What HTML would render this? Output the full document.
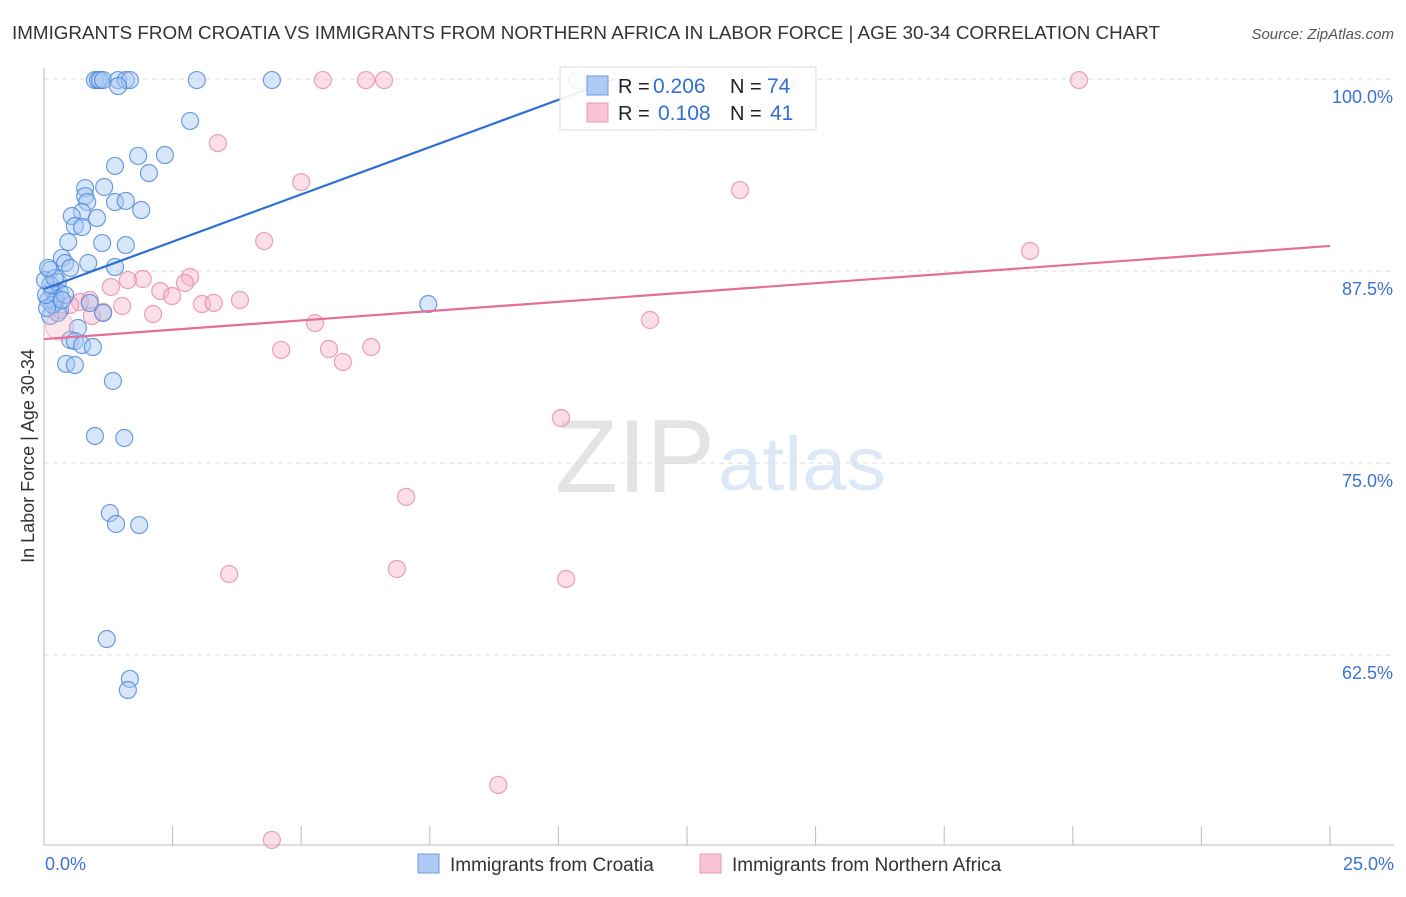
<!DOCTYPE html>
<html><head><meta charset="utf-8"><style>
body{margin:0;background:#fff;font-family:"Liberation Sans",sans-serif}
svg text{font-family:"Liberation Sans",sans-serif}
</style></head><body>
<svg id="c" width="1406" height="892" xmlns="http://www.w3.org/2000/svg">
<text x="12" y="39" font-size="18.5" fill="#333" textLength="1148" lengthAdjust="spacingAndGlyphs">IMMIGRANTS FROM CROATIA VS IMMIGRANTS FROM NORTHERN AFRICA IN LABOR FORCE | AGE 30-34 CORRELATION CHART</text>
<text x="1394" y="39" font-size="15" fill="#555" text-anchor="end" font-style="italic">Source: ZipAtlas.com</text>
<text x="555" y="492" font-size="104" fill="#e4e4e4" textLength="160" lengthAdjust="spacingAndGlyphs" font-family="Liberation Serif">ZIP</text>
<text x="718" y="490" font-size="76" fill="#dde8f6" textLength="168" lengthAdjust="spacingAndGlyphs">atlas</text>
<g id="grid"></g>
<g id="axes"></g>
<g id="pts"></g>
<g id="trend"></g>
<text transform="translate(34,456) rotate(-90)" font-size="18" fill="#333" text-anchor="middle">In Labor Force | Age 30-34</text>
<g>
<rect x="560" y="67" width="256" height="63" fill="#fff" fill-opacity="0.9" stroke="#ddd"/>
<rect x="587" y="76" width="21" height="19" fill="#aecbf5" stroke="#6a9be0"/>
<rect x="587" y="103" width="21" height="19" fill="#f9c4d4" stroke="#ea9ab2"/>
<text x="618" y="93" font-size="20" fill="#222">R =</text>
<text x="653" y="93" font-size="21" fill="#2f6fd6">0.206</text>
<text x="730" y="93" font-size="20" fill="#222">N =</text>
<text x="767" y="93" font-size="21" fill="#2f6fd6">74</text>
<text x="618" y="120" font-size="20" fill="#222">R =</text>
<text x="658" y="120" font-size="21" fill="#2f6fd6">0.108</text>
<text x="730" y="120" font-size="20" fill="#222">N =</text>
<text x="770" y="120" font-size="21" fill="#2f6fd6">41</text>
</g>
<g>
<rect x="418" y="854" width="21" height="19" fill="#aecbf5" stroke="#6a9be0"/>
<text x="450" y="871" font-size="19" fill="#333">Immigrants from Croatia</text>
<rect x="700" y="854" width="21" height="19" fill="#f9c4d4" stroke="#ea9ab2"/>
<text x="732" y="871" font-size="19" fill="#333">Immigrants from Northern Africa</text>
</g>
</svg>
<script>
const xTicks=[0,2.5,5,7.5,10,12.5,15,17.5,20,22.5,25];
const yTicks=[100,87.5,75,62.5];
const yTickLabels=["100.0%","87.5%","75.0%","62.5%"];
const xEndLabels=["0.0%","25.0%"];
const bluePx=[[95,80],[98,80],[100,80],[103,80],[118,80],[126,80],[130,80],[118,86],[197,80],[272,80],[190,121],[115,166],[138,156],[165,155],[149,173],[85,188],[104,187],[85,196],[87,202],[115,202],[126,201],[141,210],[82,212],[72,216],[97,218],[75,226],[82,227],[102,243],[68,242],[126,245],[62,258],[65,263],[88,263],[115,267],[50,270],[70,268],[58,282],[52,290],[60,293],[56,298],[48,300],[55,302],[90,303],[60,310],[50,316],[58,313],[103,313],[78,328],[70,340],[75,341],[82,345],[93,347],[66,364],[75,365],[113,381],[95,436],[124,438],[110,513],[116,524],[139,525],[107,639],[130,679],[128,690],[428,304],[577,80],[53,305],[47,308],[65,295],[46,295],[50,285],[62,300],[45,280],[55,278],[48,268]];
const pinkPx=[[323,80],[366,80],[384,80],[790,80],[1079,80],[218,143],[301,182],[740,190],[264,241],[1030,251],[190,277],[185,283],[143,279],[128,280],[111,287],[160,291],[172,296],[202,304],[214,303],[240,300],[122,306],[153,314],[90,300],[80,302],[70,305],[103,312],[92,316],[650,320],[315,323],[281,350],[329,349],[371,347],[343,362],[561,418],[406,497],[229,574],[397,569],[566,579],[498,785],[272,840]];
const blueX=bluePx.map(p=>+((p[0]-44)*25/1286).toFixed(2));
const blueY=bluePx.map(p=>+(100-(p[1]-79)*12.5/192).toFixed(2));
const pinkX=pinkPx.map(p=>+((p[0]-44)*25/1286).toFixed(2));
const pinkY=pinkPx.map(p=>+(100-(p[1]-79)*12.5/192).toFixed(2));
const blueTrend=[[0,86.33],[11.1,100]];
const pinkTrend=[[0,83.07],[25,89.13]];
const X=v=>44+v/25*1286, Y=v=>79+(100-v)/12.5*192;
const NS="http://www.w3.org/2000/svg";
function mk(t,a,par){const e=document.createElementNS(NS,t);for(const k in a)e.setAttribute(k,a[k]);document.getElementById(par).appendChild(e);return e;}
yTicks.forEach((v,i)=>{
 const l=mk('line',{x1:44,x2:1394,y1:Y(v),y2:Y(v),stroke:'#ddd','stroke-dasharray':'5,4'},'grid');
 
 
 const t=mk('text',{x:1393,y:Y(v)+24,'font-size':18,fill:'#3b72d4','text-anchor':'end'},'grid');t.textContent=yTickLabels[i];
 
 
});
let a=mk('line',{x1:44,x2:44,y1:68,y2:845,stroke:'#bbb'},'axes');


a=mk('line',{x1:44,x2:1394,y1:845,y2:845,stroke:'#bbb'},'axes');


xTicks.forEach(v=>{const t=mk('line',{x1:X(v),x2:X(v),y1:826,y2:845,stroke:'#bbb'},'axes');
 
 });
[[0,'start',45],[25,'end',1394]].forEach((d,i)=>{const t=mk('text',{x:d[2],y:870,'font-size':18,fill:'#3b72d4','text-anchor':d[1]},'axes');t.textContent=xEndLabels[i];
 
 });
function dots(xs,ys,fill,stroke,name){xs.forEach((x,i)=>{const c=mk('circle',{cx:X(x),cy:Y(ys[i]),r:8.5,fill:fill,'fill-opacity':0.45,stroke:stroke,'stroke-width':1.2,'stroke-opacity':0.8},'pts');
 
 });}
dots(pinkX,pinkY,'#f7b6c9','#e68aa6','point-northern-africa');
dots(blueX,blueY,'#a9c8f2','#4a86dc','point-croatia');
let bc=mk('circle',{cx:X(0.3),cy:Y(83.9),r:14,fill:'#f7b6c9','fill-opacity':0.35,stroke:'#e68aa6','stroke-opacity':0.6},'pts');


let tl=mk('line',{x1:X(blueTrend[0][0]),y1:Y(blueTrend[0][1]),x2:X(blueTrend[1][0]),y2:Y(blueTrend[1][1]),stroke:'#2a6fd6','stroke-width':2.2},'trend');


tl=mk('line',{x1:X(pinkTrend[0][0]),y1:Y(pinkTrend[0][1]),x2:X(pinkTrend[1][0]),y2:Y(pinkTrend[1][1]),stroke:'#e56d98','stroke-width':2.2},'trend');


</script>
</body></html>
